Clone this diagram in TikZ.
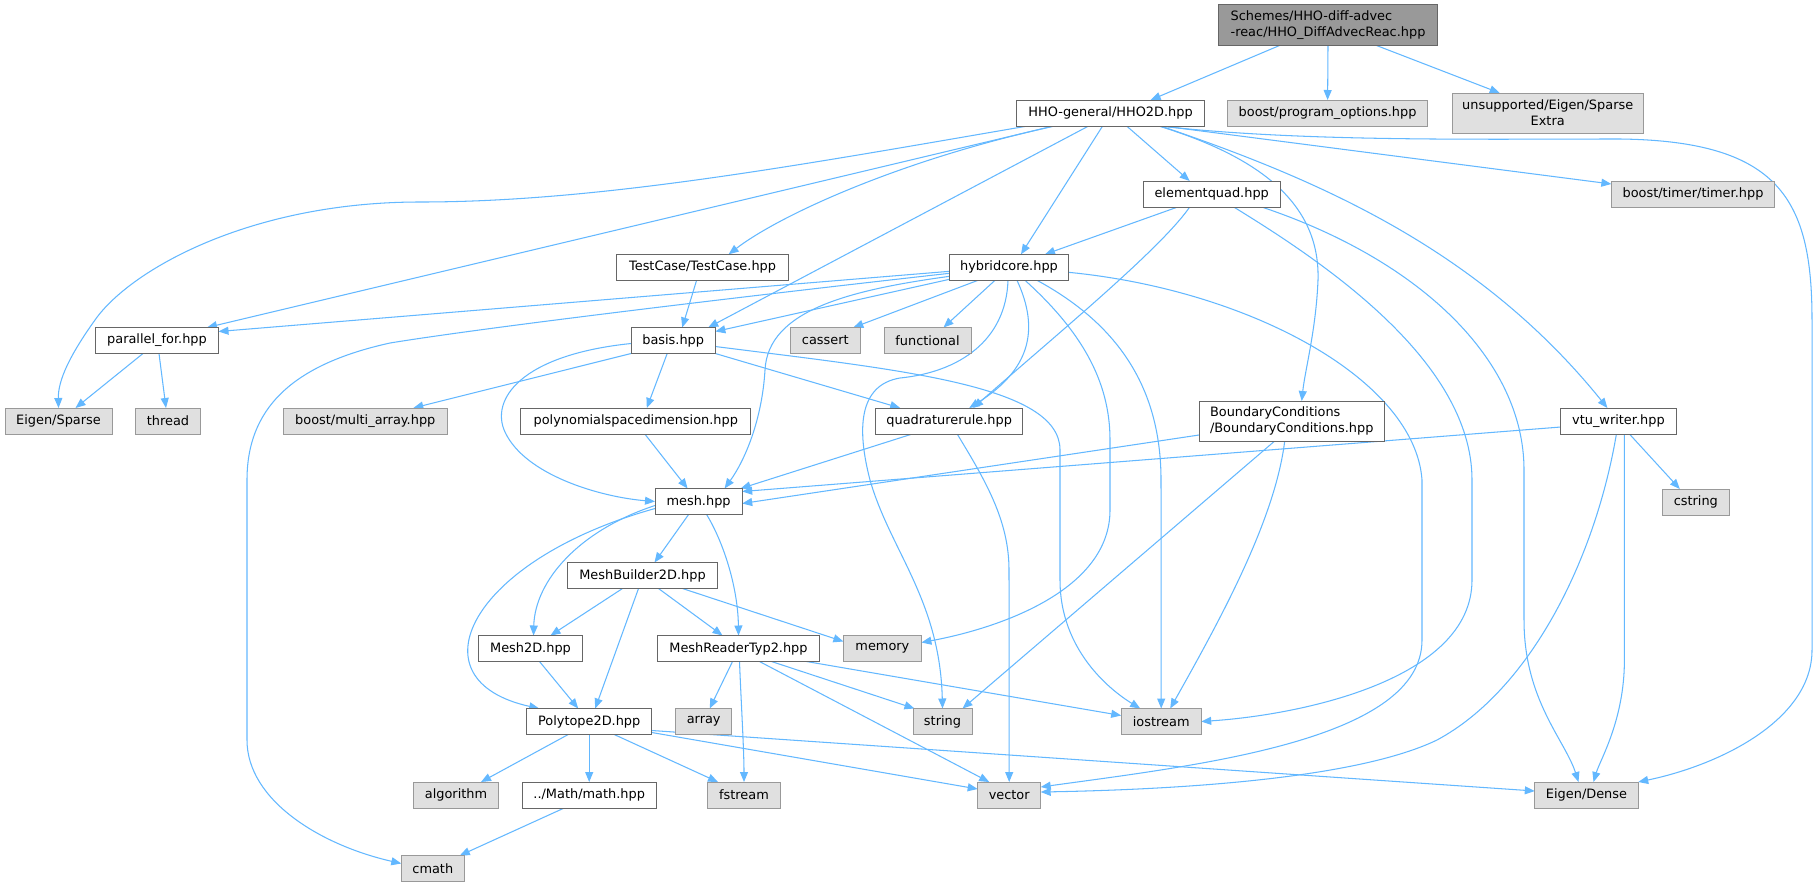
\documentclass[tikz,border=0pt]{standalone}
\usepackage{fontspec}
\setmainfont{DejaVu Sans}
\usetikzlibrary{arrows.meta}
\definecolor{edgec}{HTML}{63B8FF}
\definecolor{bordc}{HTML}{666666}
\definecolor{extb}{HTML}{999999}
\definecolor{extf}{HTML}{E0E0E0}
\definecolor{rootf}{HTML}{999999}
\pgfdeclarelayer{bglayer}
\pgfdeclarelayer{edgelayer}
\pgfsetlayers{bglayer,edgelayer,main}
\tikzset{
  box/.style={draw=bordc, fill=white, line width=0.95pt, inner sep=0pt, outer sep=0pt, minimum height=26pt, text=black},
  ext/.style={box, draw=extb, fill=extf},
  rootn/.style={box, fill=rootf},
  edge/.style={draw=edgec, line width=1.05pt, -{Triangle[length=10pt,width=8pt]}}
}
\begin{document}
\begin{tikzpicture}[x=1pt, y=-1pt, font=\fontsize{12.9}{15.7}\selectfont]
\begin{pgfonlayer}{bglayer}
\fill[white] (0,0) rectangle (1819,887);
\end{pgfonlayer}
\useasboundingbox (0,0) rectangle (1819,887);
% nodes
\node[rootn, minimum width=219pt, minimum height=40.6pt, align=left] (rt) at (1328,25) {Schemes/HHO-diff-advec\\-reac/HHO\_DiffAdvecReac.hpp};
\node[box, minimum width=187.5pt] (hho) at (1110.6,113) {HHO-general/HHO2D.hpp};
\node[ext, minimum width=200.4pt] (po) at (1327.6,113) {boost/program\_options.hpp};
\node[ext, minimum width=191.2pt, minimum height=40pt, align=center] (uns) at (1547.7,113) {unsupported/Eigen/Sparse\\Extra};
\node[box, minimum width=137pt] (eq) at (1211.7,194) {elementquad.hpp};
\node[ext, minimum width=163.3pt] (tim) at (1693,194) {boost/timer/timer.hpp};
\node[box, minimum width=119pt] (hc) at (1009,267.3) {hybridcore.hpp};
\node[box, minimum width=171.3pt] (tc) at (702.6,267.3) {TestCase/TestCase.hpp};
\node[box, minimum width=123pt] (pf) at (157,340.5) {parallel\_for.hpp};
\node[box, minimum width=84.3pt] (bas) at (673.2,340.5) {basis.hpp};
\node[ext, minimum width=70pt] (cas) at (825.3,340.5) {cassert};
\node[ext, minimum width=87pt] (fun) at (927.5,340.5) {functional};
\node[ext, minimum width=107pt] (esp) at (58.5,421) {Eigen/Sparse};
\node[ext, minimum width=64.6pt] (thr) at (168,421) {thread};
\node[ext, minimum width=163.4pt] (ma) at (365.3,421) {boost/multi\_array.hpp};
\node[box, minimum width=229.7pt] (poly) at (635.8,421) {polynomialspacedimension.hpp};
\node[box, minimum width=147pt] (qr) at (949.2,421) {quadraturerule.hpp};
\node[box, minimum width=185.4pt, minimum height=40pt, align=left] (bc) at (1291.7,421) {BoundaryConditions\\/BoundaryConditions.hpp};
\node[box, minimum width=115.2pt] (vtu) at (1618.4,421) {vtu\_writer.hpp};
\node[box, minimum width=87.2pt] (mesh) at (698.6,501.5) {mesh.hpp};
\node[ext, minimum width=67pt] (cst) at (1695.8,502) {cstring};
\node[box, minimum width=149.7pt] (mb) at (642.5,575.5) {MeshBuilder2D.hpp};
\node[box, minimum width=103.2pt] (m2d) at (530.5,648.5) {Mesh2D.hpp};
\node[box, minimum width=161.7pt] (mrt) at (738.5,648.5) {MeshReaderTyp2.hpp};
\node[ext, minimum width=78pt] (mem) at (882.4,648.5) {memory};
\node[box, minimum width=125.3pt] (p2d) at (589.2,721.5) {Polytope2D.hpp};
\node[ext, minimum width=56.3pt] (arr) at (703.7,721.5) {array};
\node[ext, minimum width=59pt] (str) at (942.5,721.5) {string};
\node[ext, minimum width=80pt] (ios) at (1161.2,721.5) {iostream};
\node[ext, minimum width=85.8pt] (alg) at (456,795) {algorithm};
\node[box, minimum width=133.6pt] (mth) at (589.2,795) {../Math/math.hpp};
\node[ext, minimum width=73.8pt] (fst) at (744,795) {fstream};
\node[ext, minimum width=63pt] (vec) at (1009.2,795) {vector};
\node[ext, minimum width=103.4pt] (ed) at (1586.5,795) {Eigen/Dense};
\node[ext, minimum width=63pt] (cm) at (432.8,868.5) {cmath};
% edges
\begin{pgfonlayer}{edgelayer}
\draw[edge] ([xshift=-48pt]rt.south) -- ([xshift=40pt]hho.north);
\draw[edge] (rt.south) -- (po.north);
\draw[edge] ([xshift=48pt]rt.south) -- ([xshift=-48pt]uns.north);
% HHO2D
\draw[edge] ([xshift=-83pt]hho.south) .. controls (800,165) and (600,202) .. (420,202) .. controls (250,202) and (130,270) .. (95,320) .. controls (70,355) and (58,380) .. (esp.north);
\draw[edge] ([xshift=-57pt]hho.south) -- ([xshift=50pt]pf.north);
\draw[edge] ([xshift=-56pt]hho.south) .. controls (900,160) and (780,215) .. ([xshift=26pt]tc.north);
\draw[edge] ([xshift=-22pt]hho.south) -- ([xshift=35pt]bas.north);
\draw[edge] ([xshift=-8pt]hho.south) -- ([xshift=12pt]hc.north);
\draw[edge] ([xshift=16pt]hho.south) -- ([xshift=-22pt]eq.north);
\draw[edge] ([xshift=48pt]hho.south) .. controls (1270,160) and (1320,210) .. (1318,280) .. controls (1316,330) and (1305,370) .. ([xshift=10pt]bc.north);
\draw[edge] ([xshift=50pt]hho.south) .. controls (1320,180) and (1480,250) .. ([xshift=-11pt]vtu.north);
\draw[edge] ([xshift=52pt]hho.south) -- ([yshift=-3pt]tim.north west);
\draw[edge] ([xshift=49pt]hho.south) .. controls (1300,142) and (1480,139) .. (1620,139) .. controls (1780,141) and (1812,200) .. (1812,320) -- (1812,650) .. controls (1812,720) and (1720,765) .. (ed.north east);
% hybridcore
\draw[edge] ([yshift=-4pt]hc.west) -- ([yshift=9pt]pf.east);
\draw[edge] ([yshift=-12pt]hc.west) -- ([yshift=9pt]bas.east);
\draw[edge] ([yshift=-9pt]hc.west) .. controls (850,290) and (768,310) .. (765,370) .. controls (762,420) and (745,460) .. ([xshift=26pt]mesh.north);
\draw[edge] ([yshift=-6pt]hc.west) .. controls (800,290) and (500,325) .. (390,343) .. controls (290,365) and (247,410) .. (247,480) -- (247,740) .. controls (247,800) and (320,845) .. ([yshift=5pt]cm.west);
\draw[edge] ([xshift=-31pt]hc.south) -- ([xshift=28pt]cas.north);
\draw[edge] ([xshift=-14pt]hc.south) -- ([xshift=16pt]fun.north);
\draw[edge] ([xshift=-1pt]hc.south) .. controls (1006,340) and (960,372) .. (900,378) .. controls (858,385) and (857,430) .. (870,480) .. controls (890,550) and (940,600) .. (str.north);
\draw[edge] ([xshift=8pt]hc.south) .. controls (1040,330) and (1030,370) .. ([xshift=20pt]qr.north);
\draw[edge] ([xshift=16pt]hc.south) .. controls (1080,330) and (1110,380) .. (1110,440) -- (1110,510) .. controls (1110,590) and (1000,628) .. ([yshift=6pt]mem.east);
\draw[edge] ([xshift=28pt]hc.south) .. controls (1110,320) and (1161,380) .. (1161,480) -- (ios.north);
\draw[edge] ([yshift=-5pt]hc.east) .. controls (1250,290) and (1415,380) .. (1422,480) -- (1422,640) .. controls (1422,740) and (1200,765) .. ([yshift=8pt]vec.east);
% elementquad
\draw[edge] ([xshift=-34pt]eq.south) -- ([xshift=36pt]hc.north);
\draw[edge] ([xshift=-22pt]eq.south) .. controls (1160,250) and (1050,340) .. ([xshift=24pt]qr.north);
\draw[edge] ([xshift=22pt]eq.south) .. controls (1320,260) and (1472,360) .. (1472,480) -- (1472,580) .. controls (1472,680) and (1300,715) .. (ios.east);
\draw[edge] ([xshift=50pt]eq.south) .. controls (1420,260) and (1524,360) .. (1524,470) -- (1524,620) .. controls (1524,700) and (1565,740) .. ([xshift=-8pt]ed.north);
% TestCase
\draw[edge] ([xshift=-6pt]tc.south) -- ([xshift=9pt]bas.north);
% parallel_for
\draw[edge] ([xshift=-14pt]pf.south) -- ([xshift=17pt]esp.north);
\draw[edge] ([xshift=2pt]pf.south) -- ([xshift=-2pt]thr.north);
% basis
\draw[edge] (bas.south west) -- ([xshift=48pt]ma.north);
\draw[edge] ([yshift=-3pt]bas.west) .. controls (520,355) and (490,400) .. (505,432) .. controls (525,475) and (600,497) .. (mesh.west);
\draw[edge] ([xshift=-6pt]bas.south) -- ([xshift=11pt]poly.north);
\draw[edge] (bas.south east) -- ([xshift=-49pt]qr.north);
\draw[edge] ([yshift=-6pt]bas.east) .. controls (900,370) and (1060,385) .. (1060,450) -- (1060,580) .. controls (1060,650) and (1110,690) .. ([xshift=-21pt]ios.north);
% polynomial, quadrature
\draw[edge] ([xshift=9pt]poly.south) -- ([xshift=-11pt]mesh.north);
\draw[edge] ([xshift=-37pt]qr.south) -- ([xshift=42pt]mesh.north);
\draw[edge] ([xshift=8pt]qr.south) .. controls (985,480) and (1009,520) .. (1009,570) -- (vec.north);
% boundary conditions
\draw[edge] ([yshift=-14pt]bc.west) -- ([yshift=-2pt]mesh.east);
\draw[edge] ([xshift=-17pt]bc.south) -- ([xshift=20pt]str.north);
\draw[edge] ([xshift=-7pt]bc.south) .. controls (1275,520) and (1220,620) .. ([xshift=9pt]ios.north);
% vtu_writer
\draw[edge] ([yshift=-6pt]vtu.west) -- ([yshift=10pt]mesh.east);
\draw[edge] ([xshift=11pt]vtu.south) -- ([xshift=-16pt]cst.north);
\draw[edge] ([xshift=6pt]vtu.south) -- ++(0,226) .. controls +(0,60) and (1600,760) .. ([xshift=7pt]ed.north);
\draw[edge] ([xshift=-2pt]vtu.south) .. controls (1595,560) and (1530,690) .. (1437,740) .. controls (1350,782) and (1150,790) .. ([yshift=3pt]vec.east);
% mesh
\draw[edge] ([xshift=-10pt]mesh.south) -- ([xshift=12pt]mb.north);
\draw[edge] ([xshift=8pt]mesh.south) .. controls (725,545) and (738,590) .. (mrt.north);
\draw[edge] ([yshift=-4pt]mesh.west) .. controls (580,530) and (535,580) .. ([xshift=3pt]m2d.north);
\draw[edge] ([yshift=-7pt]mesh.west) .. controls (470,560) and (410,680) .. ([xshift=-50pt]p2d.north);
% MeshBuilder2D
\draw[edge] ([xshift=-20pt]mb.south) -- ([xshift=20pt]m2d.north);
\draw[edge] ([xshift=-4pt]mb.south) -- ([xshift=6pt]p2d.north);
\draw[edge] ([xshift=16pt]mb.south) -- ([xshift=-16pt]mrt.north);
\draw[edge] ([xshift=40pt]mb.south) -- ([yshift=7pt]mem.west);
% Mesh2D
\draw[edge] ([xshift=9pt]m2d.south) -- ([xshift=-11pt]p2d.north);
% MeshReaderTyp2
\draw[edge] ([xshift=-6pt]mrt.south) -- ([xshift=6pt]arr.north);
\draw[edge] ([xshift=1pt]mrt.south) .. controls (741,700) and (744,750) .. (fst.north);
\draw[edge] ([xshift=33pt]mrt.south) -- ([xshift=-28pt]str.north);
\draw[edge] ([xshift=21pt]mrt.south) -- ([xshift=-20pt]vec.north);
\draw[edge] ([xshift=68pt]mrt.south) -- ([yshift=6pt]ios.west);
% Polytope2D
\draw[edge] ([xshift=-21pt]p2d.south) -- ([xshift=25pt]alg.north);
\draw[edge] (p2d.south) -- (mth.north);
\draw[edge] ([xshift=25pt]p2d.south) -- ([xshift=-26pt]fst.north);
\draw[edge] ([yshift=-11pt]p2d.east) -- ([yshift=6pt]vec.west);
\draw[edge] ([yshift=-9pt]p2d.east) -- ([yshift=4pt]ed.west);
% math
\draw[edge] ([xshift=-25pt]mth.south) -- ([xshift=27pt]cm.north);
\end{pgfonlayer}
\end{tikzpicture}
\end{document}
